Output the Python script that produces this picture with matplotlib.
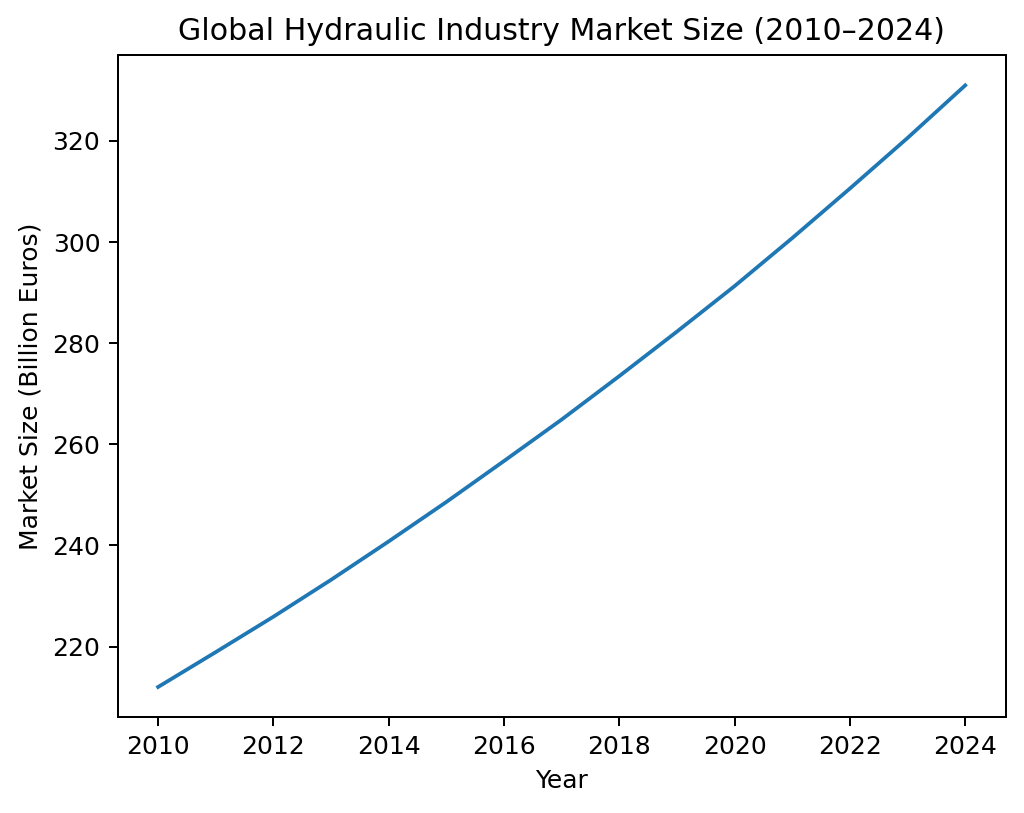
import matplotlib
matplotlib.use("Agg")
import matplotlib.pyplot as plt

# Market size per year
years = [2010, 2011, 2012, 2013, 2014, 2015, 2016, 2017,
         2018, 2019, 2020, 2021, 2022, 2023, 2024]
market_size = [212.0, 218.9, 225.9, 233.2, 240.8, 248.6, 256.7, 264.9,
               273.5, 282.3, 291.3, 300.8, 310.6, 320.6, 331.0]

fig, ax = plt.subplots(figsize=(1024 / 180, 813 / 180), dpi=180)
fig.subplots_adjust(left=0.115, right=0.982, top=0.932, bottom=0.118)

ax.plot(years, market_size, color="#1f77b4", linewidth=1.5)

ax.set_title("Global Hydraulic Industry Market Size (2010\u20132024)")
ax.set_xlabel("Year")
ax.set_ylabel("Market Size (Billion Euros)")
ax.set_xticks(range(2010, 2025, 2))

plt.savefig("out.png", dpi=180)
